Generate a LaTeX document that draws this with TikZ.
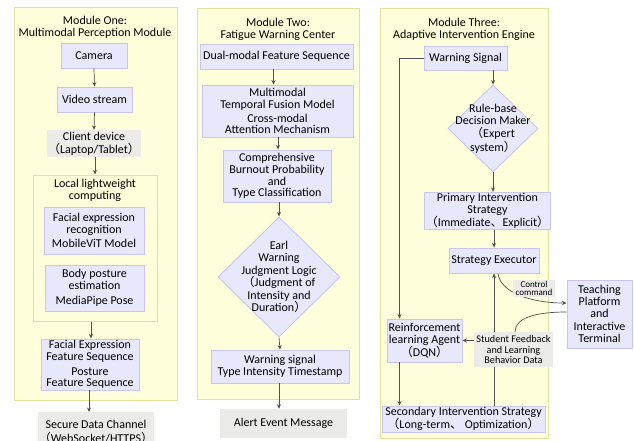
\documentclass[tikz,border=0pt]{standalone}
\usepackage{fontspec}
\setmainfont{Carlito}
\newfontfamily\cjk{Noto Sans CJK SC}
\usetikzlibrary{arrows.meta,shapes.geometric,calc}
\pgfdeclarelayer{bg}
\pgfdeclarelayer{mid}
\pgfsetlayers{bg,mid,main}
\definecolor{modfill}{HTML}{FFFFDC}
\definecolor{moddraw}{HTML}{E2E29C}
\definecolor{boxfill}{HTML}{E8E8FC}
\definecolor{boxdraw}{HTML}{C6C6F0}
\definecolor{grayfill}{HTML}{EBEBE8}
\definecolor{arrc}{HTML}{505050}
\newcommand\fwl{{\cjk （}}
\newcommand\fwr{{\cjk ）}}
\newcommand\fwc{{\cjk 、}}
\tikzset{
  module/.style={draw=moddraw, fill=modfill, line width=1pt},
  bx/.style={draw=boxdraw, fill=boxfill, line width=0.9pt, align=center, inner sep=1pt},
  gbx/.style={fill=grayfill, align=center, inner sep=1pt},
  dbx/.style={diamond, draw=boxdraw, fill=boxfill, line width=0.9pt, inner sep=0pt},
  arr/.style={draw=arrc, line width=0.7pt, -{Stealth[length=4.5pt,width=4pt]}},
  ln/.style={draw=arrc, line width=0.7pt},
  ttl/.style={align=center, inner sep=0pt},
  small/.style={font=\fontsize{10.2}{10.8}\selectfont},
}
\begin{document}
\begin{tikzpicture}[x=1pt,y=-1pt,font=\fontsize{12}{11.8}\selectfont]
\clip (0,0) rectangle (634,441);
% modules
\begin{pgfonlayer}{bg}
\fill[white] (0,0) rectangle (634,441);
\node[module, minimum width=163, minimum height=392, inner sep=0] (m1) at (95.5,204) {};
\node[module, minimum width=162, minimum height=390, inner sep=0] (m2) at (278,204) {};
\node[module, minimum width=168, minimum height=429, inner sep=0] (m3) at (464,223.5) {};
\node[module, minimum width=124, minimum height=146, inner sep=0] (loc) at (95,248) {};
\end{pgfonlayer}
% Module One
\node[ttl] (t1) at (95,27) {Module One:\\Multimodal Perception Module};
\node[bx, minimum width=66, minimum height=25] (cam) at (94,55.5) {Camera};
\node[bx, minimum width=75, minimum height=25] (vid) at (94.5,99.5) {Video stream};
\node[gbx, minimum width=94, minimum height=27] (cli) at (94,143.5) {Client device\\[1pt]\fwl Laptop/Tablet\fwr};
\node[ttl] (loct) at (95,190) {Local lightweight\\computing};
\node[bx, minimum width=100, minimum height=47] (fac) at (94,230.5) {Facial expression\\recognition\\[3pt]MobileViT Model};
\node[bx, minimum width=99, minimum height=46] (bod) at (94.5,288) {Body posture\\estimation\\[3pt]MediaPipe Pose};
\node[bx, minimum width=98, minimum height=51] (fea) at (90,364.5) {Facial Expression\\Feature Sequence\\[3pt]Posture\\Feature Sequence};
\node[gbx, minimum width=112, minimum height=40, anchor=north] (sec1) at (96,412) {Secure Data Channel\\[2pt]\fwl WebSocket/HTTPS\fwr};
\draw[arr] (cam.south) -- (vid.north);
\draw[arr] (vid.south) -- (cli.north);
\draw[arr] (cli.south -| loc.north) -- (loc.north);
\draw[arr] ($(loc.south)+(-4,0)$) -- ($(fea.north)+(1,0)$);
\draw[arr] ($(fea.south)+(-1,0)$) -- ($(sec1.north)+(-7,0)$);
% Module Two
\node[ttl] (t2) at (278,29) {Module Two:\\Fatigue Warning Center};
\node[bx, minimum width=153, minimum height=25] (dual) at (276.5,56.5) {Dual-modal Feature Sequence};
\node[bx, minimum width=151, minimum height=52] (mtf) at (277.5,111) {Multimodal\\Temporal Fusion Model\\[2pt]Cross-modal\\Attention Mechanism};
\node[bx, minimum width=108, minimum height=52] (cbp) at (277,176) {Comprehensive\\Burnout Probability\\and\\Type Classification};
\node[dbx, minimum width=122, minimum height=120, label={[align=center, font=\fontsize{12}{12.4}\selectfont]center:Earl\\Warning\\Judgment Logic\\\fwl Judgment of\\Intensity and\\Duration\fwr}] (ewj) at (279,277) {};
\node[bx, minimum width=138, minimum height=33] (wsig) at (280,366.5) {Warning signal\\Type Intensity Timestamp};
\node[gbx, minimum width=127, minimum height=29] (alert) at (283.5,423.5) {Alert Event Message};
\draw[arr] ($(dual.south)+(-3,0)$) -- ($(mtf.north)+(-4,0)$);
\draw[arr] ($(mtf.south)+(0.5,0)$) -- ($(cbp.north)+(1,0)$);
\draw[arr] ($(cbp.south)+(2,0)$) -- (ewj.north);
\draw[arr] (ewj.south) -- (wsig.north);
\draw[arr] ($(wsig.south)+(-1,0)$) -- (alert.north -| 279,0);
% Module Three
\node[ttl] (t3) at (464,29) {Module Three:\\Adaptive Intervention Engine};
\node[bx, minimum width=83, minimum height=24] (ws) at (465.5,58) {Warning Signal};
\node[dbx, minimum width=90, minimum height=87, label={[align=center, font=\fontsize{12}{12.2}\selectfont]center:Rule-base\\Decision Maker\\[1pt]\fwl Expert\\system\fwr}] (rbd) at (493,128.5) {};
\node[bx, minimum width=115, minimum height=36] (pis) at (487.5,211) {Primary Intervention\\Strategy\\\fwl Immediate\fwc Explicit\fwr};
\node[bx, minimum width=90, minimum height=25] (se) at (494,260.5) {Strategy Executor};
\node[bx, minimum width=65, minimum height=68] (tp) at (599.5,314) {Teaching\\Platform\\and\\[2pt]Interactive\\Terminal};
\node[bx, minimum width=75, minimum height=43] (rl) at (424.5,340.5) {Reinforcement\\learning Agent\\\fwl DQN\fwr};
\node[bx, minimum width=163, minimum height=26] (sis) at (463.5,419) {Secondary Intervention Strategy\\\fwl Long-term\fwc\ Optimization\fwr};
\node[gbx, small, minimum width=79, minimum height=35] (fb) at (513.5,349.5) {Student Feedback\\and Learning\\Behavior Data};
\begin{pgfonlayer}{mid}
\draw[arr] (se.south |- sis.north) -- (se.south);
\end{pgfonlayer}
\draw[arr] ($(ws.south)+(27.5,0)$) -- (rbd.north);
\draw[arr] (rbd.south) -- (rbd.south |- pis.north);
\draw[arr] (se.north |- pis.south) -- (se.north);
\draw[arr] (ws.west) -| ($(rl.north west)+(13,0)$);
\draw[arr] ($(rl.south west)+(13,0)$) -- ($(sis.north west)+(18,0)$);
\draw[arr] (fb.west |- rl.east) -- (rl.east);
\draw[arr] ($(se.south)+(4,0)$) .. controls (500,292) and (530,303) .. ($(tp.west)+(0,-11)$);
\node[gbx, font=\fontsize{9}{8.5}\selectfont, minimum width=42, minimum height=17] (cc) at (534,288.5) {Control\\command};
\draw[ln] ($(tp.west)+(0,-2)$) .. controls (535,312) and (515,318) .. ($(fb.north)+(1.5,0)$);
\end{tikzpicture}
\end{document}
